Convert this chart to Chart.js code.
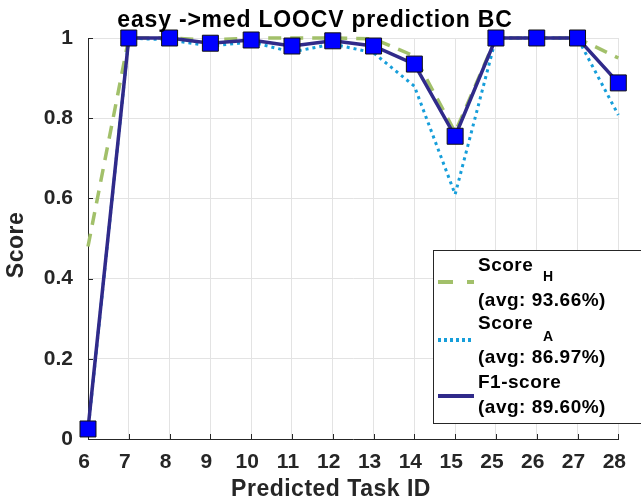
<!DOCTYPE html>
<html>
<head>
<meta charset="utf-8">
<script src="https://cdn.jsdelivr.net/npm/chart.js@4.4.1/dist/chart.umd.min.js"></script>
<style>
  html, body { margin: 0; padding: 0; background: #fff; }
  #wrap { width: 641px; height: 503px; }
</style>
</head>
<body>
<div id="wrap"><canvas id="score_chart" width="641" height="503"></canvas></div>
<script>
// predicted task ids on the x axis
var taskIds = ["6", "7", "8", "9", "10", "11", "12", "13", "14", "15", "25", "26", "27", "28"];
// per-task scores
var scoreH = [0.48, 1, 1, 0.995, 1, 1, 1, 0.998, 0.955, 0.765, 1, 1, 1, 0.95];
var scoreA = [0.02, 1, 0.995, 0.98, 0.99, 0.965, 0.985, 0.963, 0.88, 0.61, 1, 1, 1, 0.808];
var f1Score = [0.025, 1, 1, 0.987, 0.995, 0.98, 0.993, 0.98, 0.935, 0.755, 1, 1, 1, 0.888];
var yTicks = [0, 0.2, 0.4, 0.6, 0.8, 1];

var titleText = "easy ->med LOOCV prediction BC";
var xTitle = "Predicted Task ID";
var yTitle = "Score";
var legendRows = [
    {name: "Score", sub: "H", avg: "(avg: 93.66%)"},
    {name: "Score", sub: "A", avg: "(avg: 86.97%)"},
    {name: "F1-score", sub: "", avg: "(avg: 89.60%)"}
];

var green = "rgb(162,192,106)";
var cyan = "rgb(22,158,218)";
var navy = "rgb(48,42,138)";
var axisGray = "#262626";
var fontName = "'Liberation Sans', Arial, sans-serif";

function spacedText(ctx, txt, x, y, spacing) {
    ctx.letterSpacing = spacing + "px";
    ctx.fillText(txt, x, y);
    ctx.letterSpacing = "0px";
}

// titles, inward tick marks and the boxed legend
var decorations = {
    id: "decorations",
    beforeDatasetsDraw: function(chart) {
        var ctx = chart.ctx, a = chart.chartArea;
        var xs = chart.scales.x, ys = chart.scales.y;
        ctx.save();
        ctx.strokeStyle = axisGray;
        ctx.lineWidth = 1;
        ctx.beginPath();
        for (var i = 0; i < taskIds.length; i++) {
            var px = Math.round(xs.getPixelForValue(i)) + 0.5;
            ctx.moveTo(px, a.bottom);
            ctx.lineTo(px, a.bottom - 5);
        }
        yTicks.forEach(function(v) {
            var py = Math.round(ys.getPixelForValue(v)) + 0.5;
            ctx.moveTo(a.left, py);
            ctx.lineTo(a.left + 5, py);
        });
        ctx.stroke();
        ctx.restore();
    },
    afterDraw: function(chart) {
        var ctx = chart.ctx;
        ctx.save();
        ctx.textBaseline = "middle";
        ctx.textAlign = "center";

        ctx.fillStyle = "#000";
        ctx.font = "bold 23px " + fontName;
        spacedText(ctx, titleText, 315, 21, 0.8);

        ctx.fillStyle = axisGray;
        ctx.font = "bold 23px " + fontName;
        spacedText(ctx, xTitle, 331, 490, 0.5);

        ctx.save();
        ctx.translate(17, 245);
        ctx.rotate(-Math.PI / 2);
        spacedText(ctx, yTitle, 0, 0, 0.5);
        ctx.restore();

        // legend box
        var bx = 433.5, by = 250.5;
        ctx.fillStyle = "#fff";
        ctx.fillRect(bx, by, 220, 173);
        ctx.strokeStyle = axisGray;
        ctx.lineWidth = 1;
        ctx.strokeRect(bx, by, 220, 173);

        var styles = [
            {color: green, dash: [15, 14], y: 282},
            {color: cyan, dash: [3, 3], y: 340},
            {color: navy, dash: [], y: 396}
        ];
        var rowY = [[266, 277, 301], [324, 337, 358], [383, 0, 408]];
        for (var i = 0; i < legendRows.length; i++) {
            var s = styles[i];
            ctx.strokeStyle = s.color;
            ctx.lineWidth = 4;
            ctx.setLineDash(s.dash);
            ctx.beginPath();
            ctx.moveTo(438, s.y);
            ctx.lineTo(474, s.y);
            ctx.stroke();
            ctx.setLineDash([]);

            ctx.fillStyle = "#000";
            ctx.textAlign = "left";
            ctx.font = "bold 19px " + fontName;
            spacedText(ctx, legendRows[i].name, 478, rowY[i][0], 0.5);
            spacedText(ctx, legendRows[i].avg, 478, rowY[i][2], 0.5);
            if (legendRows[i].sub) {
                ctx.font = "bold 14px " + fontName;
                ctx.fillText(legendRows[i].sub, 543, rowY[i][1]);
            }
        }
        ctx.restore();
    }
};

var data = {
    labels: taskIds,
    datasets: [
        {
            label: "F1-score",
            data: f1Score,
            borderColor: navy,
            borderWidth: 3.5,
            pointStyle: "rect",
            pointRadius: 11.3,
            pointBackgroundColor: "#0000ff",
            pointBorderColor: "#111",
            pointBorderWidth: 1,
            tension: 0,
            clip: false,
            order: 0
        },
        {
            label: "Score A",
            data: scoreA,
            borderColor: cyan,
            borderWidth: 3,
            borderDash: [3, 4],
            pointRadius: 0,
            tension: 0,
            clip: false,
            order: 1
        },
        {
            label: "Score H",
            data: scoreH,
            borderColor: green,
            borderWidth: 3.5,
            borderDash: [13, 9],
            pointRadius: 0,
            tension: 0,
            clip: false,
            order: 2
        }
    ]
};

var config = {
    type: "line",
    data: data,
    options: {
        responsive: false,
        animation: false,
        events: [],
        layout: { padding: { top: 38, right: 22, left: 0, bottom: 0 } },
        plugins: { legend: { display: false }, tooltip: { enabled: false }, title: { display: false } },
        scales: {
            x: {
                offset: false,
                grid: { color: "#e3e3e3", lineWidth: 1, drawTicks: false },
                border: { color: axisGray, width: 1 },
                ticks: { color: axisGray, font: { family: fontName, size: 21, weight: "bold" }, padding: 11, labelOffset: -4, maxRotation: 0, autoSkip: false },
                afterFit: function(scale) { scale.height = 64; }
            },
            y: {
                min: 0,
                max: 1,
                grid: { color: "#e3e3e3", lineWidth: 1, drawTicks: false },
                border: { color: axisGray, width: 1 },
                ticks: {
                    stepSize: 0.2,
                    padding: 15,
                    color: axisGray,
                    font: { family: fontName, size: 21, weight: "bold" },
                    callback: function(v) { return (v === 0 || v === 1) ? String(v) : v.toFixed(1); }
                },
                afterFit: function(scale) { scale.width = 88; }
            }
        }
    },
    plugins: [decorations]
};

var chart = new Chart(document.getElementById("score_chart"), config);
</script>
</body>
</html>
